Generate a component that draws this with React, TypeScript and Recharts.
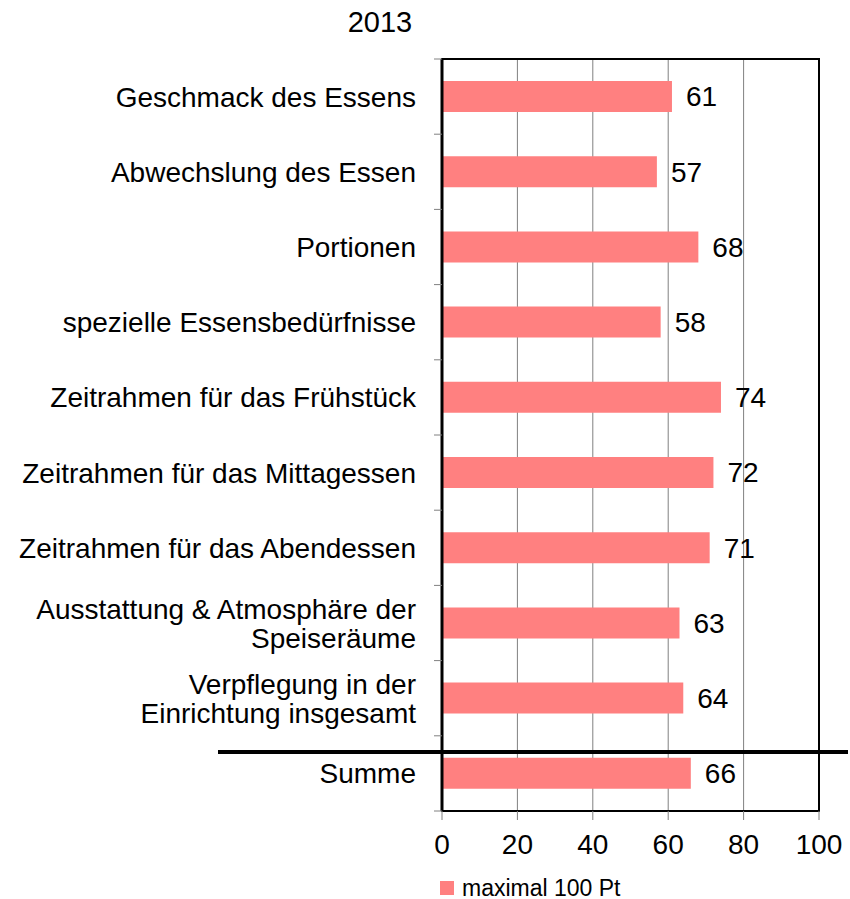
import {
  BarChart, Bar, XAxis, YAxis, CartesianGrid, LabelList, Legend, ReferenceArea
} from 'recharts';

const TITLE = '2013';
const SERIES_NAME = 'maximal 100 Pt';

const categories = [
  'Geschmack des Essens',
  'Abwechslung des Essen',
  'Portionen',
  'spezielle Essensbedürfnisse',
  'Zeitrahmen für das Frühstück',
  'Zeitrahmen für das Mittagessen',
  'Zeitrahmen für das Abendessen',
  'Ausstattung & Atmosphäre der\nSpeiseräume',
  'Verpflegung in der\nEinrichtung insgesamt',
  'Summe',
];
const values = [61, 57, 68, 58, 74, 72, 71, 63, 64, 66];
const xTicks = [0, 20, 40, 60, 80, 100];

const data = categories.map((name, i) => ({ name, value: values[i] }));

const FONT = '"Liberation Sans", Arial, sans-serif';
const CHART_W = 850;
const CHART_H = 899;
const MARGIN = { top: 59, right: 31, left: 0, bottom: 0 };
const Y_AXIS_W = 442;
const X_AXIS_H = 52;
const LEGEND_H = 36;
const TICK_MARGIN = 26;
const BAND = (CHART_H - MARGIN.top - X_AXIS_H - LEGEND_H) / categories.length;

function CategoryTick(props: any) {
  const { x, y, payload, index } = props;
  const lines = String(payload.value).split('\n');
  const lh = 29;
  const axisX = x + TICK_MARGIN;
  const startDy = -((lines.length - 1) * lh) / 2 + 10;
  return (
    <g>
      <line x1={axisX - 8} x2={axisX} y1={y - BAND / 2} y2={y - BAND / 2} stroke="#808080" />
      {index === categories.length - 1 && (
        <line x1={axisX - 8} x2={axisX} y1={y + BAND / 2} y2={y + BAND / 2} stroke="#808080" />
      )}
      <text x={x} y={y} textAnchor="end" fontSize={28} fill="#000" fontFamily={FONT}>
        {lines.map((l, i) => (
          <tspan key={i} x={x} dy={i === 0 ? startDy : lh}>{l}</tspan>
        ))}
      </text>
    </g>
  );
}

function LegendContent() {
  return (
    <div style={{
      display: 'flex', alignItems: 'center', height: LEGEND_H, paddingLeft: 440,
      paddingTop: 14, boxSizing: 'border-box', fontFamily: FONT,
    }}>
      <span style={{ width: 14, height: 14, background: '#ff8080', display: 'inline-block', marginRight: 8 }} />
      <span style={{ fontSize: 23, color: '#000', lineHeight: '23px' }}>{SERIES_NAME}</span>
    </div>
  );
}

export default function App() {
  return (
    <div style={{ position: 'absolute', left: 0, top: 0, width: CHART_W, height: CHART_H, fontFamily: FONT, background: '#fff' }}>
      <BarChart
        width={CHART_W}
        height={CHART_H}
        data={data}
        layout="vertical"
        margin={MARGIN}
      >
        <CartesianGrid horizontal={false} stroke="#808080" />
        <XAxis
          type="number"
          domain={[0, 100]}
          ticks={xTicks}
          height={X_AXIS_H}
          axisLine={false}
          tickLine={{ stroke: '#808080' }}
          tickSize={9}
          tickMargin={14}
          tick={{ fontSize: 28, fill: '#000', fontFamily: FONT }}
        />
        <YAxis
          type="category"
          dataKey="name"
          width={Y_AXIS_W}
          interval={0}
          axisLine={{ stroke: '#000', strokeWidth: 3 }}
          tickLine={false}
          tickSize={0}
          tickMargin={TICK_MARGIN}
          tick={<CategoryTick />}
        />
        <ReferenceArea x1={0} x2={100} fill="none" stroke="#000" strokeWidth={2} fillOpacity={0} />
        <Legend verticalAlign="bottom" height={LEGEND_H} content={<LegendContent />} />
        <Bar dataKey="value" name={SERIES_NAME} fill="#ff8080" barSize={31} isAnimationActive={false}>
          <LabelList dataKey="value" position="right" offset={14} fill="#000" fontSize={28} fontFamily={FONT} />
        </Bar>
      </BarChart>
      <div style={{ position: 'absolute', left: 330, top: 6, width: 100, textAlign: 'center', fontSize: 29, lineHeight: '32px', color: '#000' }}>
        {TITLE}
      </div>
      <div style={{ position: 'absolute', left: 218, top: 750, width: 630, height: 4, background: '#000' }} />
    </div>
  );
}
